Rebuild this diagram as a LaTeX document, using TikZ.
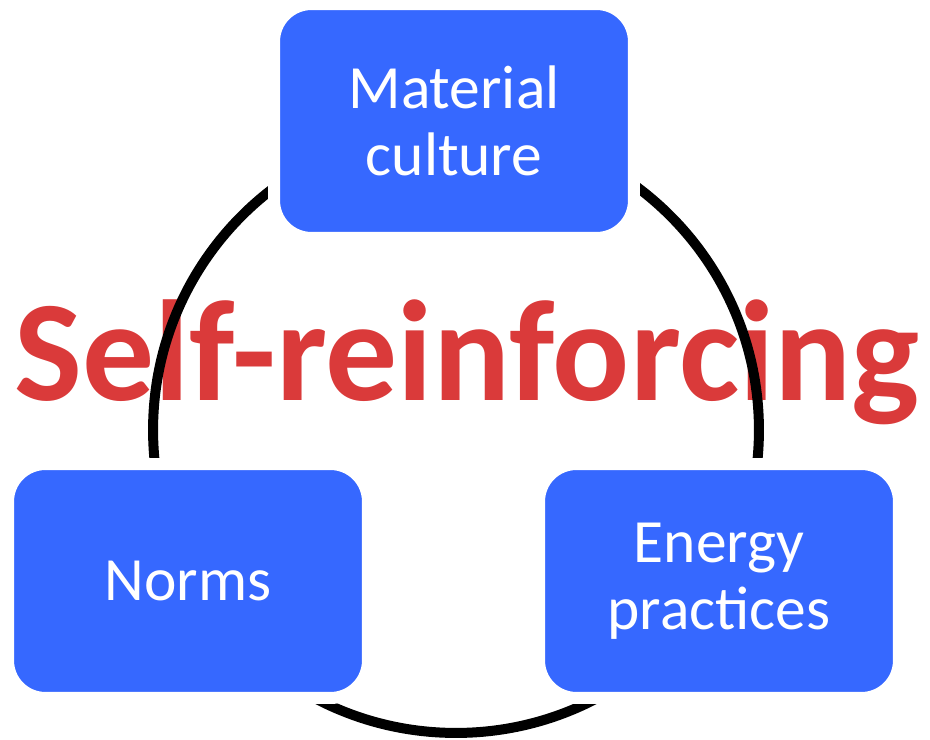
\documentclass[tikz,border=0pt]{standalone}
\usepackage{fontspec}
\setmainfont{Carlito}
\definecolor{boxblue}{RGB}{54,104,255}
\definecolor{selfred}{RGB}{218,58,58}
\begin{document}
\begin{tikzpicture}[x=0.02cm,y=-0.02cm,
  cbox/.style={fill=boxblue,draw=white,line width=0.24cm,rounded corners=0.75cm,
    minimum width=7.2cm,minimum height=4.68cm,text=white,align=center,
    font=\fontsize{35}{38}\selectfont,inner sep=0pt},
  ring/.style={line width=0.2cm,draw=black}]
\useasboundingbox (0,0) rectangle (930,740);
\node[text=selfred] (title) at (467,362) {\resizebox{18.1cm}{!}{\bfseries Self-reinforcing}};
\coordinate (c) at (456,430);
\draw[ring] (c) circle[radius=6.06cm];
\node[cbox] (mat) at (454,121) {Material\\culture};
\node[cbox] (norms) at (188,581) {Norms};
\node[cbox] (energy) at (719,581) {Energy\\practices};
\end{tikzpicture}
\end{document}
